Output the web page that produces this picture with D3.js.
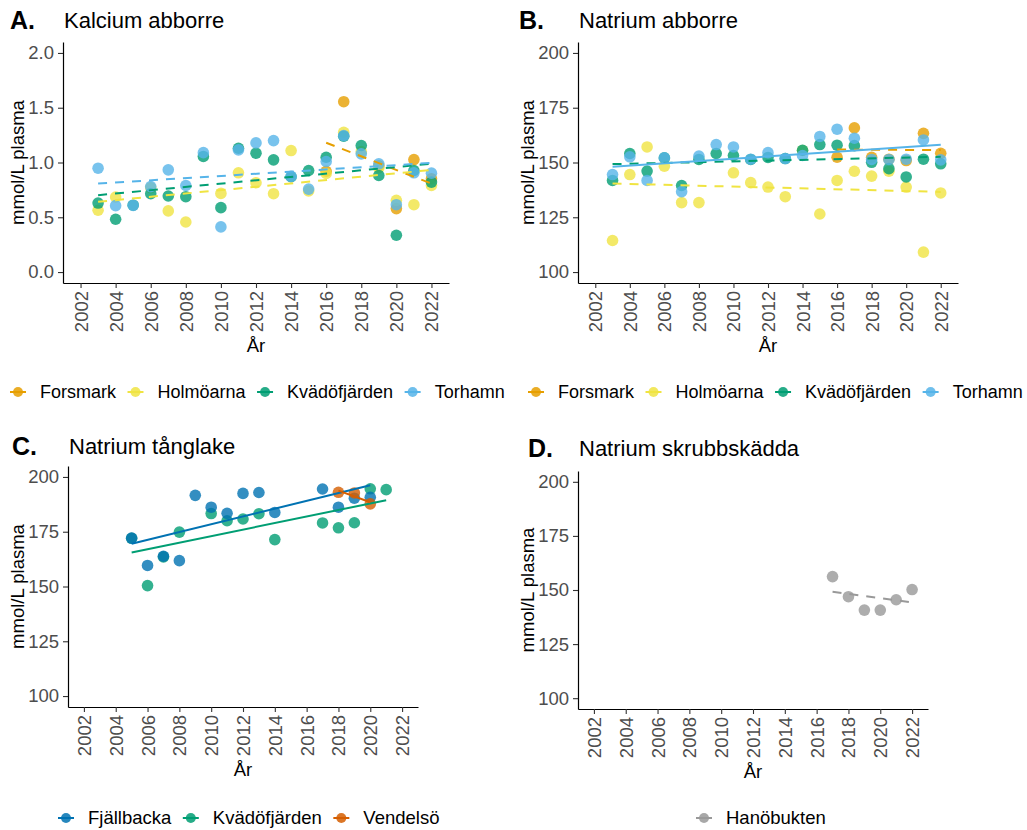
<!DOCTYPE html>
<html>
<head>
<meta charset="utf-8">
<script src="https://cdn.jsdelivr.net/npm/d3@7/dist/d3.min.js"></script>
<style>
  body { margin: 0; background: #fff; }
  svg { display: block; font-family: "Liberation Sans", Arial, sans-serif; }
</style>
</head>
<body>
<svg id="chart" width="1027" height="830"></svg>
<script>
// ---------------- data ----------------
const yearTicks = [2002, 2004, 2006, 2008, 2010, 2012, 2014, 2016, 2018, 2020, 2022];
const kalciumTicks = [0, 0.5, 1, 1.5, 2];
const natriumTicks = [100, 125, 150, 175, 200];

// Abborre (perch) – yearly means per site
const abborreYears = [2003, 2004, 2005, 2006, 2007, 2008, 2009, 2010, 2011, 2012,
                      2013, 2014, 2015, 2016, 2017, 2018, 2019, 2020, 2021, 2022];
const forsmarkYears = [2016, 2017, 2018, 2019, 2020, 2021, 2022];

const kalciumHolmoarna    = [0.564, 0.685, null, 0.77, 0.558, 0.457, null, 0.718, 0.906, 0.815,
                             0.715, 1.109, 0.74, 0.90, 1.276, 1.10, 0.95, 0.655, 0.615, 0.791];
const kalciumKvadofjarden = [0.63, 0.482, 0.61, 0.715, 0.694, 0.688, 1.055, 0.588, 1.13, 1.085,
                             1.024, 0.87, 0.927, 1.048, 1.24, 1.155, 0.882, 0.336, 0.927, 0.821];
const kalciumTorhamn      = [0.948, 0.606, 0.609, 0.78, 0.933, 0.79, 1.09, 0.412, 1.115, 1.179,
                             1.2, 0.873, 0.757, 1.009, 1.245, 1.079, 0.988, 0.615, 0.906, 0.903];
const kalciumForsmark     = [0.92, 1.555, null, 0.97, 0.579, 1.027, 0.852];

const natriumHolmoarna    = [114.4, 144.5, 157.1, 148.3, 131.7, 131.7, null, 145.3, 140.8, 138.8,
                             134.4, 155.5, 126.5, 141.8, 146.0, 143.8, 146.0, 138.8, 109.1, 136.1];
const natriumKvadofjarden = [141.8, 154.1, 146.1, 152.1, 139.5, 151.4, 154.1, 153.2, 151.4, 152.3,
                             151.8, 155.6, 158.2, 157.9, 157.7, 150.1, 147.2, 143.4, 151.5, 149.4];
const natriumTorhamn      = [144.5, 152.6, 141.8, 152.1, 136.7, 152.9, 158.2, 157.1, 151.5, 154.5,
                             151.8, 153.2, 161.9, 165.2, 161.1, 151.4, 151.4, 151.5, 160.3, 151.2];
const natriumForsmark     = [152.4, 165.8, 152.4, 151.5, 150.9, 163.3, 154.2];

// Tånglake (eelpout)
const tanglakeFjallbackaYears = [2005, 2006, 2007, 2008, 2009, 2010, 2011, 2012, 2013, 2014, 2017, 2018, 2019, 2020];
const tanglakeFjallbacka      = [172.1, 159.6, 163.8, 161.8, 191.6, 186.2, 183.4, 192.5, 192.9, 183.8, 194.5, 186.2, 190.3, 190.7];
const tanglakeKvadoYears      = [2005, 2006, 2007, 2008, 2010, 2011, 2012, 2013, 2014, 2017, 2018, 2019, 2020, 2021];
const tanglakeKvado           = [172.0, 150.4, 163.5, 174.8, 183.3, 180.0, 180.8, 183.2, 171.4, 179.0, 176.8, 179.1, 194.6, 194.2];
const tanglakeVendelsoYears   = [2018, 2019, 2020];
const tanglakeVendelso        = [193.0, 192.7, 187.7];

// Skrubbskädda (flounder)
const skrubbYears      = [2017, 2018, 2019, 2020, 2021, 2022];
const skrubbHanobukten = [156.2, 146.9, 140.7, 140.7, 145.5, 150.2];

const abborreSites  = ["Forsmark", "Holmöarna", "Kvädöfjärden", "Torhamn"];
const tanglakeSites = ["Fjällbacka", "Kvädöfjärden", "Vendelsö"];
const skrubbSites   = ["Hanöbukten"];

const siteColor = {
  "Forsmark": "#E69F00", "Holmöarna": "#F0E442", "Kvädöfjärden": "#009E73",
  "Torhamn": "#56B4E9", "Fjällbacka": "#0072B2", "Vendelsö": "#D55E00",
  "Hanöbukten": "#999999"
};

// ---------------- helpers ----------------
const svg = d3.select("#chart");
const FONT = 18.5;

function toPoints(years, values) {
  return years.map((yr, i) => ({ year: yr, value: values[i] })).filter(d => d.value != null);
}

// ordinary least squares trend, spanning the observed years
function linearTrend(pts) {
  const mx = d3.mean(pts, d => d.year), my = d3.mean(pts, d => d.value);
  const sxy = d3.sum(pts, d => (d.year - mx) * (d.value - my));
  const sxx = d3.sum(pts, d => (d.year - mx) ** 2);
  const b = sxy / sxx, a = my - b * mx;
  const [x0, x1] = d3.extent(pts, d => d.year);
  return [{ year: x0, value: a + b * x0 }, { year: x1, value: a + b * x1 }];
}

function drawPanel(cfg) {
  const g = svg.append("g");
  const x = d3.scaleLinear().domain([2001, 2023]).range([cfg.left, cfg.right]);
  const y = d3.scaleLinear().domain(cfg.yDomain).range([cfg.bottom, cfg.top]);

  // x axis
  const gx = g.append("g")
    .attr("transform", `translate(0,${cfg.bottom})`)
    .call(d3.axisBottom(x).tickValues(yearTicks).tickFormat(d3.format("d")).tickSize(5).tickSizeOuter(0));
  gx.selectAll("text")
    .attr("transform", "rotate(-90)")
    .attr("text-anchor", "end")
    .attr("x", -8).attr("y", 0).attr("dy", "0.35em");

  // y axis
  const gy = g.append("g")
    .attr("transform", `translate(${cfg.left},0)`)
    .call(d3.axisLeft(y).tickValues(cfg.yTicks).tickFormat(cfg.yFormat).tickSize(5).tickPadding(4).tickSizeOuter(0));

  [gx, gy].forEach(a => {
    a.select(".domain").attr("stroke", "#000").attr("stroke-width", 1.2);
    a.selectAll(".tick line").attr("stroke", "#333").attr("stroke-width", 1.1);
    a.selectAll(".tick text").attr("fill", "#4D4D4D").style("font-size", FONT + "px")
      .style("font-family", '"Liberation Sans", Arial, sans-serif');
  });

  // points
  cfg.series.forEach(s => {
    g.append("g").selectAll("circle").data(s.points).join("circle")
      .attr("cx", d => x(d.year)).attr("cy", d => y(d.value)).attr("r", 5.8)
      .attr("fill", siteColor[s.name]).attr("fill-opacity", 0.8);
  });

  // trend lines
  const line = d3.line().x(d => x(d.year)).y(d => y(d.value));
  cfg.series.forEach(s => {
    g.append("path").datum(linearTrend(s.points))
      .attr("d", line).attr("fill", "none")
      .attr("stroke", siteColor[s.name]).attr("stroke-width", 2)
      .attr("stroke-dasharray", s.dashed ? "9,8" : null);
  });

  // titles
  g.append("text").attr("x", cfg.tagX).attr("y", cfg.titleY + 1)
    .style("font-size", "25px").style("font-weight", "bold").text(cfg.tag);
  g.append("text").attr("x", cfg.left + 1).attr("y", cfg.titleY)
    .style("font-size", "22px").text(cfg.title);

  // axis titles
  g.append("text").attr("x", (cfg.left + cfg.right) / 2).attr("y", cfg.bottom + 69)
    .attr("text-anchor", "middle").style("font-size", FONT + "px").text("År");
  g.append("text")
    .attr("transform", `translate(${cfg.yTitleX},${(cfg.top + cfg.bottom) / 2}) rotate(-90)`)
    .attr("text-anchor", "middle").style("font-size", FONT + "px").text("mmol/L plasma");
}

function drawLegend(names, startX, cy, fontSize) {
  let cx = startX;
  names.forEach(name => {
    const g = svg.append("g");
    g.append("line").attr("x1", cx - 8).attr("x2", cx + 8).attr("y1", cy).attr("y2", cy)
      .attr("stroke", siteColor[name]).attr("stroke-width", 2);
    g.append("circle").attr("cx", cx).attr("cy", cy).attr("r", 5)
      .attr("fill", siteColor[name]).attr("fill-opacity", 0.85);
    const t = g.append("text").attr("x", cx + 22).attr("y", cy).attr("dy", "0.35em")
      .style("font-size", fontSize + "px").text(name);
    cx = cx + 22 + t.node().getComputedTextLength() + 19.5;
  });
}

// ---------------- panels ----------------
const fmt1 = d3.format(".1f");
const fmt0 = d3.format("d");

drawPanel({
  tag: "A.", tagX: 10, title: "Kalcium abborre", titleY: 28,
  left: 63, right: 449, top: 42, bottom: 283,
  yDomain: [-0.1, 2.1], yTicks: kalciumTicks, yFormat: fmt1, yTitleX: 24,
  series: [
    { name: "Forsmark", points: toPoints(forsmarkYears, kalciumForsmark), dashed: true },
    { name: "Holmöarna", points: toPoints(abborreYears, kalciumHolmoarna), dashed: true },
    { name: "Kvädöfjärden", points: toPoints(abborreYears, kalciumKvadofjarden), dashed: true },
    { name: "Torhamn", points: toPoints(abborreYears, kalciumTorhamn), dashed: true }
  ]
});

drawPanel({
  tag: "B.", tagX: 519, title: "Natrium abborre", titleY: 28,
  left: 578, right: 958, top: 42, bottom: 283,
  yDomain: [95, 205], yTicks: natriumTicks, yFormat: fmt0, yTitleX: 534,
  series: [
    { name: "Forsmark", points: toPoints(forsmarkYears, natriumForsmark), dashed: true },
    { name: "Holmöarna", points: toPoints(abborreYears, natriumHolmoarna), dashed: true },
    { name: "Kvädöfjärden", points: toPoints(abborreYears, natriumKvadofjarden), dashed: true },
    { name: "Torhamn", points: toPoints(abborreYears, natriumTorhamn), dashed: false }
  ]
});

drawPanel({
  tag: "C.", tagX: 12, title: "Natrium tånglake", titleY: 454,
  left: 68, right: 418, top: 466, bottom: 707,
  yDomain: [95, 205], yTicks: natriumTicks, yFormat: fmt0, yTitleX: 24,
  series: [
    { name: "Kvädöfjärden", points: toPoints(tanglakeKvadoYears, tanglakeKvado), dashed: false },
    { name: "Fjällbacka", points: toPoints(tanglakeFjallbackaYears, tanglakeFjallbacka), dashed: false },
    { name: "Vendelsö", points: toPoints(tanglakeVendelsoYears, tanglakeVendelso), dashed: false }
  ]
});

drawPanel({
  tag: "D.", tagX: 528, title: "Natrium skrubbskädda", titleY: 456,
  left: 578, right: 928, top: 471, bottom: 709,
  yDomain: [95, 205], yTicks: natriumTicks, yFormat: fmt0, yTitleX: 534,
  series: [
    { name: "Hanöbukten", points: toPoints(skrubbYears, skrubbHanobukten), dashed: true }
  ]
});

// ---------------- legends ----------------
drawLegend(abborreSites, 18, 392, 18);
drawLegend(abborreSites, 536, 392, 18);
drawLegend(tanglakeSites, 66, 818, 18.5);
drawLegend(skrubbSites, 704, 818, 18.5);
</script>
</body>
</html>
